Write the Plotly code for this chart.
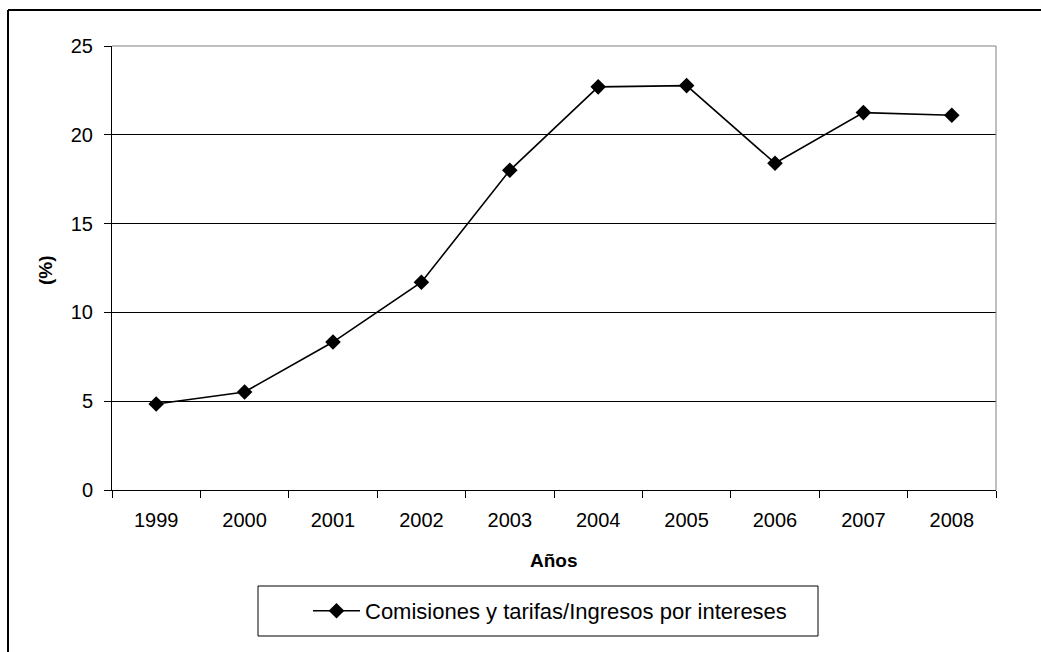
import plotly.graph_objects as go

years = ["1999", "2000", "2001", "2002", "2003", "2004", "2005", "2006", "2007", "2008"]
ratio = [4.84, 5.52, 8.33, 11.7, 18.0, 22.7, 22.77, 18.4, 21.25, 21.1]
y_ticks = [0, 5, 10, 15, 20, 25]
series_name = "Comisiones y tarifas/Ingresos por intereses"

W, H = 1041, 652
L, R, T, B = 112, 45, 46, 162
PW, PH = W - L - R, H - T - B


def px(x):
    return (x - L) / PW


def py(y):
    return (H - B - y) / PH


FONT = "Liberation Sans, Arial, sans-serif"

fig = go.Figure()
fig.add_trace(go.Scatter(
    x=years, y=ratio, name=series_name, mode="lines+markers",
    line=dict(color="black", width=1.6),
    marker=dict(symbol="diamond", size=12, color="black"),
))

shapes = [
    # outer chart frame (top and left edges)
    dict(type="line", xref="paper", yref="paper", x0=px(8), x1=px(1060), y0=py(10), y1=py(10),
         line=dict(color="black", width=2)),
    dict(type="line", xref="paper", yref="paper", x0=px(8), x1=px(8), y0=py(10), y1=py(670),
         line=dict(color="black", width=2)),
    # plot area border, top and right
    dict(type="line", xref="paper", yref="paper", x0=0, x1=1, y0=1, y1=1,
         line=dict(color="#808080", width=1)),
    dict(type="line", xref="paper", yref="paper", x0=1, x1=1, y0=0, y1=1,
         line=dict(color="#808080", width=1)),
    # legend box
    dict(type="rect", xref="paper", yref="paper", x0=px(258), x1=px(818), y0=py(586), y1=py(636),
         line=dict(color="black", width=1), fillcolor="rgba(0,0,0,0)"),
]

annotations = [
    dict(text="<b>Años</b>", xref="paper", yref="paper", x=0.5, y=py(560), showarrow=False,
         xanchor="center", yanchor="middle", font=dict(size=19, color="black", family=FONT)),
    dict(text="<b>(%)</b>", xref="paper", yref="paper", x=px(45), y=py(270), showarrow=False,
         xanchor="center", yanchor="middle", textangle=-90,
         font=dict(size=19, color="black", family=FONT)),
]

fig.update_layout(
    width=W, height=H,
    margin=dict(l=L, r=R, t=T, b=B),
    paper_bgcolor="white", plot_bgcolor="white",
    font=dict(family=FONT, color="black", size=20),
    showlegend=True,
    legend=dict(x=px(308), y=py(611), xanchor="left", yanchor="middle",
                bgcolor="rgba(0,0,0,0)", borderwidth=0, font=dict(size=22),
                itemwidth=47),
    shapes=shapes,
    annotations=annotations,
)

fig.update_xaxes(
    type="category", range=[-0.5, 9.5], tickson="boundaries",
    showline=True, linecolor="black", linewidth=1,
    ticks="outside", ticklen=7, tickcolor="black",
    showgrid=False, tickfont=dict(size=20), ticklabelstandoff=12,
)
fig.update_yaxes(
    range=[0, 25], tickvals=y_ticks,
    showline=True, linecolor="black", linewidth=1,
    ticks="outside", ticklen=7, tickcolor="black",
    showgrid=True, gridcolor="black", gridwidth=1,
    zeroline=False, tickfont=dict(size=20), ticklabelstandoff=7,
)

fig.write_html("out.html")
